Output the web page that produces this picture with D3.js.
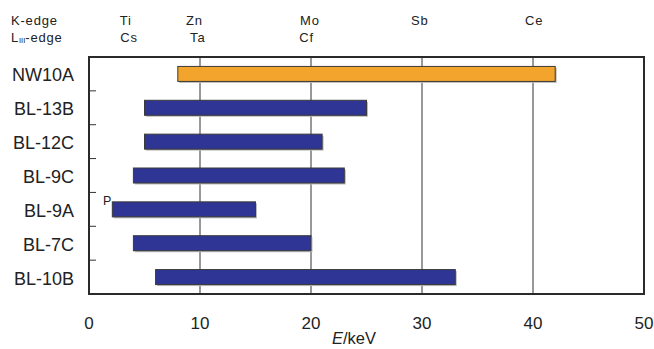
<!DOCTYPE html>
<html>
<head>
<meta charset="utf-8">
<script src="https://cdn.jsdelivr.net/npm/d3@7"></script>
<style>
  body { margin: 0; background: #fff; }
  svg { display: block; font-family: "Liberation Sans", Arial, sans-serif; }
</style>
</head>
<body>
<svg id="chart" width="654" height="349"></svg>
<script>
// beamlines, top to bottom
const beamlines = ['NW10A', 'BL-13B', 'BL-12C', 'BL-9C', 'BL-9A', 'BL-7C', 'BL-10B'];
// energy range of each beamline (keV)
const eMin = [8, 5, 5, 4, 2.1, 4, 6];
const eMax = [42, 25, 21, 23, 15, 20, 33];
const xTicks = [0, 10, 20, 30, 40, 50];
// absorption edge labels (keV position of label centre)
const kEdge = [['Ti', 3.3], ['Zn', 9.5], ['Mo', 19.9], ['Sb', 29.8], ['Ce', 40.1]];
const lEdge = [['Cs', 3.6], ['Ta', 9.8], ['Cf', 19.6]];

const svg = d3.select('#chart');
const m = { left: 89, right: 10, top: 57, bottom: 55 };
const W = 654, H = 349;

const x = d3.scaleLinear().domain([0, 50]).range([m.left, W - m.right]);
const y = d3.scaleBand().domain(beamlines).range([m.top, H - m.bottom]);

// vertical grid lines
svg.append('g').selectAll('line')
  .data(xTicks.filter(d => d > 0 && d < 50))
  .join('line')
  .attr('x1', d => x(d)).attr('x2', d => x(d))
  .attr('y1', m.top).attr('y2', H - m.bottom)
  .attr('stroke', '#333').attr('stroke-width', 1);

// left ticks between rows
svg.append('g').selectAll('line')
  .data(beamlines.slice(1))
  .join('line')
  .attr('x1', m.left).attr('x2', m.left + 7)
  .attr('y1', d => y(d)).attr('y2', d => y(d))
  .attr('stroke', '#333').attr('stroke-width', 1);

// bars
const barH = 15;
const rows = beamlines.map((b, i) => ({ name: b, lo: eMin[i], hi: eMax[i] }));
const bars = svg.append('g');
bars.selectAll('rect.shadow')
  .data(rows)
  .join('rect')
  .attr('class', 'shadow')
  .attr('x', d => x(d.lo) + 1.5)
  .attr('y', d => y(d.name) + (y.bandwidth() - barH) / 2 + 1.5)
  .attr('width', d => x(d.hi) - x(d.lo))
  .attr('height', barH)
  .attr('fill', '#bbb');
bars.selectAll('rect.bar')
  .data(rows)
  .join('rect')
  .attr('class', 'bar')
  .attr('x', d => x(d.lo))
  .attr('y', d => y(d.name) + (y.bandwidth() - barH) / 2)
  .attr('width', d => x(d.hi) - x(d.lo))
  .attr('height', barH)
  .attr('fill', d => d.name === 'NW10A' ? '#f2a42c' : '#2e3594')
  .attr('stroke', '#3a3a3a').attr('stroke-width', 1);

// frame
svg.append('rect')
  .attr('x', m.left).attr('y', m.top)
  .attr('width', x(50) - x(0)).attr('height', H - m.bottom - m.top)
  .attr('fill', 'none').attr('stroke', '#2a2a2a').attr('stroke-width', 2);

// category labels
svg.append('g').selectAll('text')
  .data(beamlines)
  .join('text')
  .attr('x', 74)
  .attr('y', d => y(d) + y.bandwidth() / 2 + 7.5)
  .attr('text-anchor', 'end')
  .attr('font-size', 18)
  .attr('fill', '#222')
  .text(d => d);

// x tick labels
svg.append('g').selectAll('text')
  .data(xTicks)
  .join('text')
  .attr('x', d => x(d))
  .attr('y', 329)
  .attr('text-anchor', 'middle')
  .attr('font-size', 17)
  .attr('fill', '#222')
  .text(d => d);

const xl = svg.append('text')
  .attr('x', 332).attr('y', 344)
  .attr('font-size', 16.5).attr('fill', '#222');
xl.append('tspan').attr('font-style', 'italic').text('E');
xl.append('tspan').text('/keV');

// "P" marker next to BL-9A
svg.append('text')
  .attr('x', 103).attr('y', y('BL-9A') + 13)
  .attr('font-size', 12.5).attr('fill', '#222')
  .text('P');

// edge headers
const hdr = { size: 13, ls: 0.8 };
svg.append('text').attr('x', 11).attr('y', 25)
  .attr('font-size', hdr.size).attr('letter-spacing', hdr.ls)
  .attr('fill', '#222').text('K-edge');
const lt = svg.append('text').attr('x', 11).attr('y', 42)
  .attr('font-size', hdr.size).attr('letter-spacing', hdr.ls).attr('fill', '#222');
lt.append('tspan').text('L');
lt.append('tspan').attr('font-size', 7.5).attr('letter-spacing', 0).attr('dy', 1).text('III');
lt.append('tspan').attr('dy', -1).text('-edge');

svg.append('g').selectAll('text')
  .data(kEdge)
  .join('text')
  .attr('x', d => x(d[1])).attr('y', 25)
  .attr('text-anchor', 'middle')
  .attr('font-size', hdr.size).attr('letter-spacing', hdr.ls).attr('fill', '#222')
  .text(d => d[0]);
svg.append('g').selectAll('text')
  .data(lEdge)
  .join('text')
  .attr('x', d => x(d[1])).attr('y', 42)
  .attr('text-anchor', 'middle')
  .attr('font-size', hdr.size).attr('letter-spacing', hdr.ls).attr('fill', '#222')
  .text(d => d[0]);
</script>
</body>
</html>
